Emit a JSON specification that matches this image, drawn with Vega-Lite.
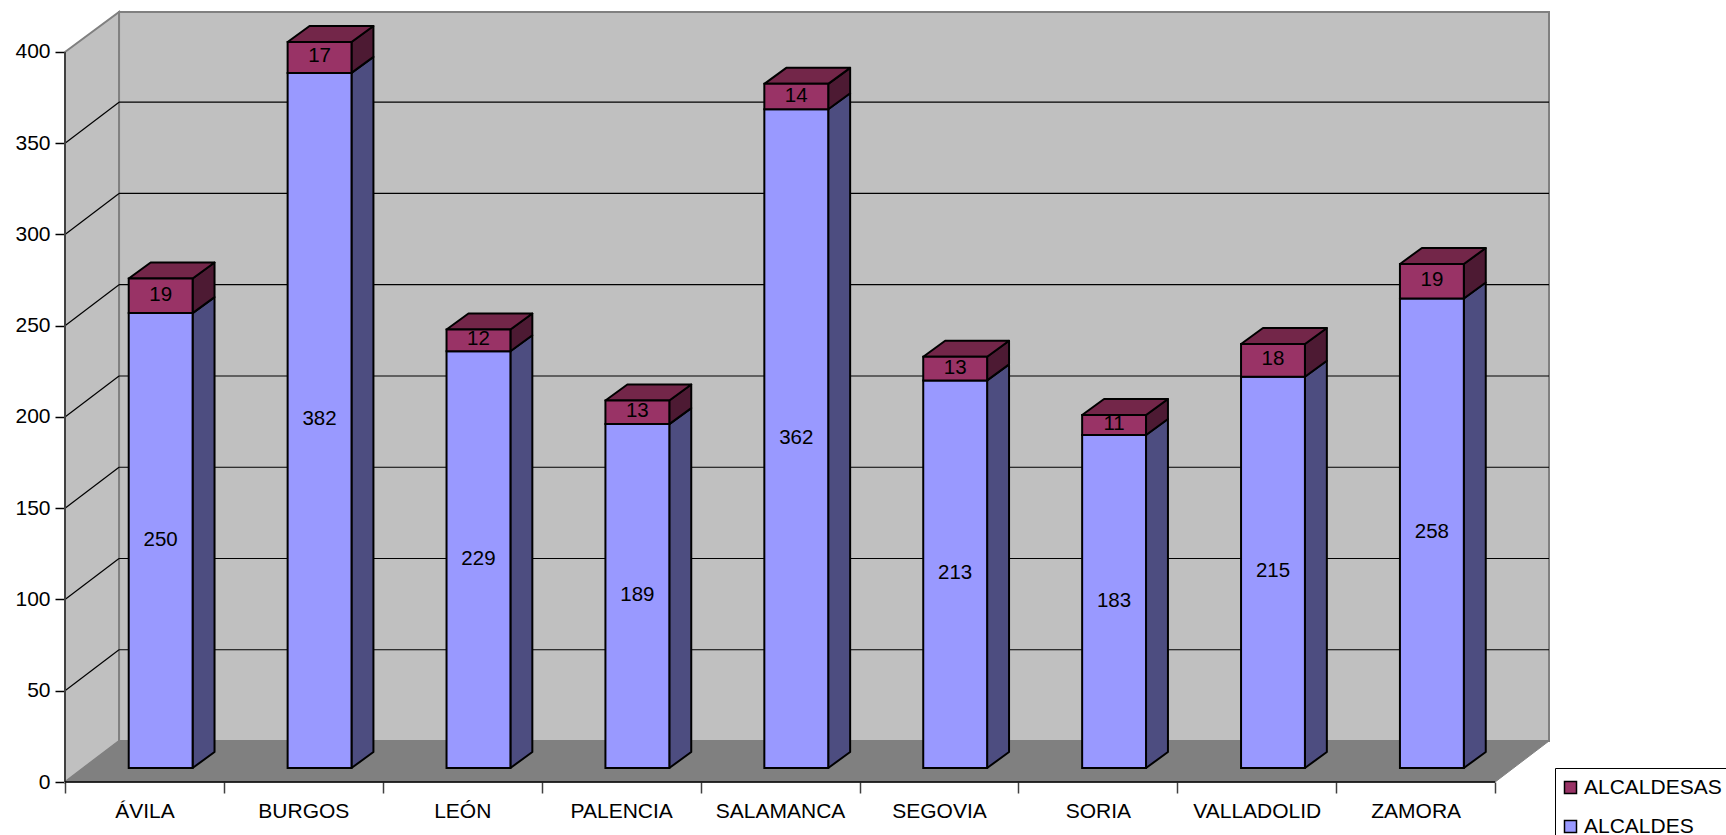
{"$schema":"https://vega.github.io/schema/vega-lite/v6.json","width":1484,"height":770,"autosize":{"type":"none"},"padding":{"left":65,"top":12,"right":177,"bottom":53},"background":"white","config":{"view":{"stroke":null},"font":"Liberation Sans","axis":{"grid":false},"axisX":{"title":null,"domain":false,"tickSize":11,"tickColor":"#404040","tickWidth":1.5,"labelFontSize":21,"labelColor":"#000","labelPadding":7,"labelOffset":79.45,"labelBound":false,"labelOverlap":false,"labelFlush":false,"labelAngle":0,"labelAlign":"center"},"axisY":{"title":null,"domain":false,"tickSize":10,"tickColor":"#000","tickWidth":1.5,"labelFontSize":21,"labelColor":"#000","labelPadding":5}},"data":{"values":[{"orden":0,"provincia":"ÁVILA","serie":"ALCALDES","valor":250},{"orden":0,"provincia":"ÁVILA","serie":"ALCALDESAS","valor":19},{"orden":1,"provincia":"BURGOS","serie":"ALCALDES","valor":382},{"orden":1,"provincia":"BURGOS","serie":"ALCALDESAS","valor":17},{"orden":2,"provincia":"LEÓN","serie":"ALCALDES","valor":229},{"orden":2,"provincia":"LEÓN","serie":"ALCALDESAS","valor":12},{"orden":3,"provincia":"PALENCIA","serie":"ALCALDES","valor":189},{"orden":3,"provincia":"PALENCIA","serie":"ALCALDESAS","valor":13},{"orden":4,"provincia":"SALAMANCA","serie":"ALCALDES","valor":362},{"orden":4,"provincia":"SALAMANCA","serie":"ALCALDESAS","valor":14},{"orden":5,"provincia":"SEGOVIA","serie":"ALCALDES","valor":213},{"orden":5,"provincia":"SEGOVIA","serie":"ALCALDESAS","valor":13},{"orden":6,"provincia":"SORIA","serie":"ALCALDES","valor":183},{"orden":6,"provincia":"SORIA","serie":"ALCALDESAS","valor":11},{"orden":7,"provincia":"VALLADOLID","serie":"ALCALDES","valor":215},{"orden":7,"provincia":"VALLADOLID","serie":"ALCALDESAS","valor":18},{"orden":8,"provincia":"ZAMORA","serie":"ALCALDES","valor":258},{"orden":8,"provincia":"ZAMORA","serie":"ALCALDESAS","valor":19}]},"transform":[{"stack":"valor","groupby":["provincia"],"sort":[{"field":"serie","order":"ascending"}],"as":["v0","v1"]},{"calculate":"datum.orden+0.401","as":"xa"},{"calculate":"datum.orden+0.803","as":"xb"},{"calculate":"datum.v0*0.997+7.67","as":"ya"},{"calculate":"datum.v1*0.997+7.67","as":"yb"},{"calculate":"(datum.xa+datum.xb)/2","as":"xm"},{"calculate":"(datum.ya+datum.yb)/2","as":"ym"}],"layer":[{"data":{"values":[{"pared":"fondo"}]},"transform":[],"mark":{"type":"rect","fill":"#C0C0C0","stroke":"#808080","strokeWidth":2},"encoding":{"x":{"datum":0.34,"type":"quantitative","scale":{"domain":[0,9.339],"nice":false,"zero":false},"axis":{"values":[0,1,2,3,4,5,6,7,8,9],"labelExpr":"['ÁVILA','BURGOS','LEÓN','PALENCIA','SALAMANCA','SEGOVIA','SORIA','VALLADOLID','ZAMORA',''][datum.value]"}},"x2":{"datum":9.339},"y":{"datum":22.47,"type":"quantitative","scale":{"domain":[0,421.9],"nice":false,"zero":false},"axis":{"values":[0,50,100,150,200,250,300,350,400]}},"y2":{"datum":421.9}}},{"data":{"values":[{"fondo":0},{"fondo":1}]},"transform":[{"calculate":"datum.fondo*0.34","as":"xs"},{"calculate":"datum.fondo*22.47","as":"yi"},{"calculate":"400+datum.fondo*21.9","as":"yt"}],"mark":{"type":"area","fill":"#C0C0C0","stroke":"#808080","strokeWidth":2},"encoding":{"x":{"field":"xs","type":"quantitative","scale":{"domain":[0,9.339],"nice":false,"zero":false},"axis":{"values":[0,1,2,3,4,5,6,7,8,9],"labelExpr":"['ÁVILA','BURGOS','LEÓN','PALENCIA','SALAMANCA','SEGOVIA','SORIA','VALLADOLID','ZAMORA',''][datum.value]"}},"y":{"field":"yt","type":"quantitative","scale":{"domain":[0,421.9],"nice":false,"zero":false},"axis":{"values":[0,50,100,150,200,250,300,350,400]}},"y2":{"field":"yi"}}},{"data":{"values":[{"k":0},{"k":1},{"k":2},{"k":3}]},"transform":[{"calculate":"[0,0.34,9,9.339][datum.k]","as":"xs"},{"calculate":"[0,22.47,22.47,22.47][datum.k]","as":"yt"},{"calculate":"[0,0,0,22.47][datum.k]","as":"yi"}],"mark":{"type":"area","fill":"#808080","stroke":"#808080","strokeWidth":1},"encoding":{"x":{"field":"xs","type":"quantitative","scale":{"domain":[0,9.339],"nice":false,"zero":false},"axis":{"values":[0,1,2,3,4,5,6,7,8,9],"labelExpr":"['ÁVILA','BURGOS','LEÓN','PALENCIA','SALAMANCA','SEGOVIA','SORIA','VALLADOLID','ZAMORA',''][datum.value]"}},"y":{"field":"yt","type":"quantitative","scale":{"domain":[0,421.9],"nice":false,"zero":false},"axis":{"values":[0,50,100,150,200,250,300,350,400]}},"y2":{"field":"yi"}}},{"data":{"values":[{"v":50},{"v":100},{"v":150},{"v":200},{"v":250},{"v":300},{"v":350}]},"transform":[{"calculate":"datum.v+22.47","as":"vb"},{"calculate":"0","as":"xs"},{"calculate":"0.34","as":"xe"}],"mark":{"type":"rule","stroke":"#000","strokeWidth":1.2},"encoding":{"x":{"field":"xs","type":"quantitative","scale":{"domain":[0,9.339],"nice":false,"zero":false},"axis":{"values":[0,1,2,3,4,5,6,7,8,9],"labelExpr":"['ÁVILA','BURGOS','LEÓN','PALENCIA','SALAMANCA','SEGOVIA','SORIA','VALLADOLID','ZAMORA',''][datum.value]"}},"x2":{"field":"xe"},"y":{"field":"v","type":"quantitative","scale":{"domain":[0,421.9],"nice":false,"zero":false},"axis":{"values":[0,50,100,150,200,250,300,350,400]}},"y2":{"field":"vb"}}},{"data":{"values":[{"v":50},{"v":100},{"v":150},{"v":200},{"v":250},{"v":300},{"v":350}]},"transform":[{"calculate":"datum.v+22.47","as":"vb"},{"calculate":"0.34","as":"xs"},{"calculate":"9.339","as":"xe"}],"mark":{"type":"rule","stroke":"#000","strokeWidth":1.2},"encoding":{"x":{"field":"xs","type":"quantitative","scale":{"domain":[0,9.339],"nice":false,"zero":false},"axis":{"values":[0,1,2,3,4,5,6,7,8,9],"labelExpr":"['ÁVILA','BURGOS','LEÓN','PALENCIA','SALAMANCA','SEGOVIA','SORIA','VALLADOLID','ZAMORA',''][datum.value]"}},"x2":{"field":"xe"},"y":{"field":"vb","type":"quantitative","scale":{"domain":[0,421.9],"nice":false,"zero":false},"axis":{"values":[0,50,100,150,200,250,300,350,400]}}}},{"data":{"values":[{"a":0}]},"transform":[],"mark":{"type":"rule","stroke":"#404040","strokeWidth":2},"encoding":{"x":{"datum":0,"type":"quantitative","scale":{"domain":[0,9.339],"nice":false,"zero":false},"axis":{"values":[0,1,2,3,4,5,6,7,8,9],"labelExpr":"['ÁVILA','BURGOS','LEÓN','PALENCIA','SALAMANCA','SEGOVIA','SORIA','VALLADOLID','ZAMORA',''][datum.value]"}},"y":{"datum":0,"type":"quantitative","scale":{"domain":[0,421.9],"nice":false,"zero":false},"axis":{"values":[0,50,100,150,200,250,300,350,400]}},"y2":{"datum":400}}},{"data":{"values":[{"a":0}]},"transform":[],"mark":{"type":"rule","stroke":"#000","strokeWidth":1.5},"encoding":{"x":{"datum":0,"type":"quantitative","scale":{"domain":[0,9.339],"nice":false,"zero":false},"axis":{"values":[0,1,2,3,4,5,6,7,8,9],"labelExpr":"['ÁVILA','BURGOS','LEÓN','PALENCIA','SALAMANCA','SEGOVIA','SORIA','VALLADOLID','ZAMORA',''][datum.value]"}},"x2":{"datum":9},"y":{"datum":0,"type":"quantitative","scale":{"domain":[0,421.9],"nice":false,"zero":false},"axis":{"values":[0,50,100,150,200,250,300,350,400]}}}},{"transform":[{"filter":"datum.serie==='ALCALDES'"},{"calculate":"[0,1]","as":"k"},{"flatten":["k"]},{"calculate":"datum.xb+datum.k*0.138","as":"sx"},{"calculate":"datum.yb+datum.k*8.77","as":"st"},{"calculate":"datum.ya+datum.k*8.77","as":"si"}],"mark":{"type":"area","fill":"#4D4D80","stroke":"#000","strokeWidth":2,"strokeJoin":"round"},"encoding":{"detail":{"field":"provincia"},"x":{"field":"sx","type":"quantitative","scale":{"domain":[0,9.339],"nice":false,"zero":false},"axis":{"values":[0,1,2,3,4,5,6,7,8,9],"labelExpr":"['ÁVILA','BURGOS','LEÓN','PALENCIA','SALAMANCA','SEGOVIA','SORIA','VALLADOLID','ZAMORA',''][datum.value]"}},"y":{"field":"st","type":"quantitative","scale":{"domain":[0,421.9],"nice":false,"zero":false},"axis":{"values":[0,50,100,150,200,250,300,350,400]}},"y2":{"field":"si"}}},{"transform":[{"filter":"datum.serie==='ALCALDESAS'"},{"calculate":"[0,1]","as":"k"},{"flatten":["k"]},{"calculate":"datum.xb+datum.k*0.138","as":"sx"},{"calculate":"datum.yb+datum.k*8.77","as":"st"},{"calculate":"datum.ya+datum.k*8.77","as":"si"}],"mark":{"type":"area","fill":"#4D1A33","stroke":"#000","strokeWidth":2,"strokeJoin":"round"},"encoding":{"detail":{"field":"provincia"},"x":{"field":"sx","type":"quantitative","scale":{"domain":[0,9.339],"nice":false,"zero":false},"axis":{"values":[0,1,2,3,4,5,6,7,8,9],"labelExpr":"['ÁVILA','BURGOS','LEÓN','PALENCIA','SALAMANCA','SEGOVIA','SORIA','VALLADOLID','ZAMORA',''][datum.value]"}},"y":{"field":"st","type":"quantitative","scale":{"domain":[0,421.9],"nice":false,"zero":false},"axis":{"values":[0,50,100,150,200,250,300,350,400]}},"y2":{"field":"si"}}},{"transform":[{"filter":"datum.serie==='ALCALDESAS'"},{"calculate":"[0,1,2,3]","as":"k"},{"flatten":["k"]},{"calculate":"[datum.xa,datum.xa+0.138,datum.xb,datum.xb+0.138][datum.k]","as":"sx"},{"calculate":"datum.k===0?datum.yb:datum.yb+8.77","as":"st"},{"calculate":"datum.k===3?datum.yb+8.77:datum.yb","as":"si"}],"mark":{"type":"area","fill":"#732649","stroke":"#000","strokeWidth":2,"strokeJoin":"round"},"encoding":{"detail":{"field":"provincia"},"x":{"field":"sx","type":"quantitative","scale":{"domain":[0,9.339],"nice":false,"zero":false},"axis":{"values":[0,1,2,3,4,5,6,7,8,9],"labelExpr":"['ÁVILA','BURGOS','LEÓN','PALENCIA','SALAMANCA','SEGOVIA','SORIA','VALLADOLID','ZAMORA',''][datum.value]"}},"y":{"field":"st","type":"quantitative","scale":{"domain":[0,421.9],"nice":false,"zero":false},"axis":{"values":[0,50,100,150,200,250,300,350,400]}},"y2":{"field":"si"}}},{"mark":{"type":"rect","stroke":"#000","strokeWidth":2},"encoding":{"x":{"field":"xa","type":"quantitative","scale":{"domain":[0,9.339],"nice":false,"zero":false},"axis":{"values":[0,1,2,3,4,5,6,7,8,9],"labelExpr":"['ÁVILA','BURGOS','LEÓN','PALENCIA','SALAMANCA','SEGOVIA','SORIA','VALLADOLID','ZAMORA',''][datum.value]"}},"x2":{"field":"xb"},"y":{"field":"ya","type":"quantitative","scale":{"domain":[0,421.9],"nice":false,"zero":false},"axis":{"values":[0,50,100,150,200,250,300,350,400]}},"y2":{"field":"yb"},"color":{"field":"serie","type":"nominal","scale":{"domain":["ALCALDESAS","ALCALDES"],"range":["#993366","#9999FF"]},"legend":{"title":null,"orient":"none","legendX":1490,"legendY":756,"fillColor":"#fff","strokeColor":"#000","padding":9,"symbolType":"square","symbolSize":144,"symbolOffset":-4,"symbolStrokeColor":"#000","symbolStrokeWidth":1.5,"labelFontSize":21,"labelColor":"#000","labelOffset":3,"rowPadding":17}}}},{"mark":{"type":"text","fontSize":20.5,"color":"#000","dy":-1},"encoding":{"x":{"field":"xm","type":"quantitative","scale":{"domain":[0,9.339],"nice":false,"zero":false},"axis":{"values":[0,1,2,3,4,5,6,7,8,9],"labelExpr":"['ÁVILA','BURGOS','LEÓN','PALENCIA','SALAMANCA','SEGOVIA','SORIA','VALLADOLID','ZAMORA',''][datum.value]"}},"y":{"field":"ym","type":"quantitative","scale":{"domain":[0,421.9],"nice":false,"zero":false},"axis":{"values":[0,50,100,150,200,250,300,350,400]}},"text":{"field":"valor","type":"quantitative"}}}]}
